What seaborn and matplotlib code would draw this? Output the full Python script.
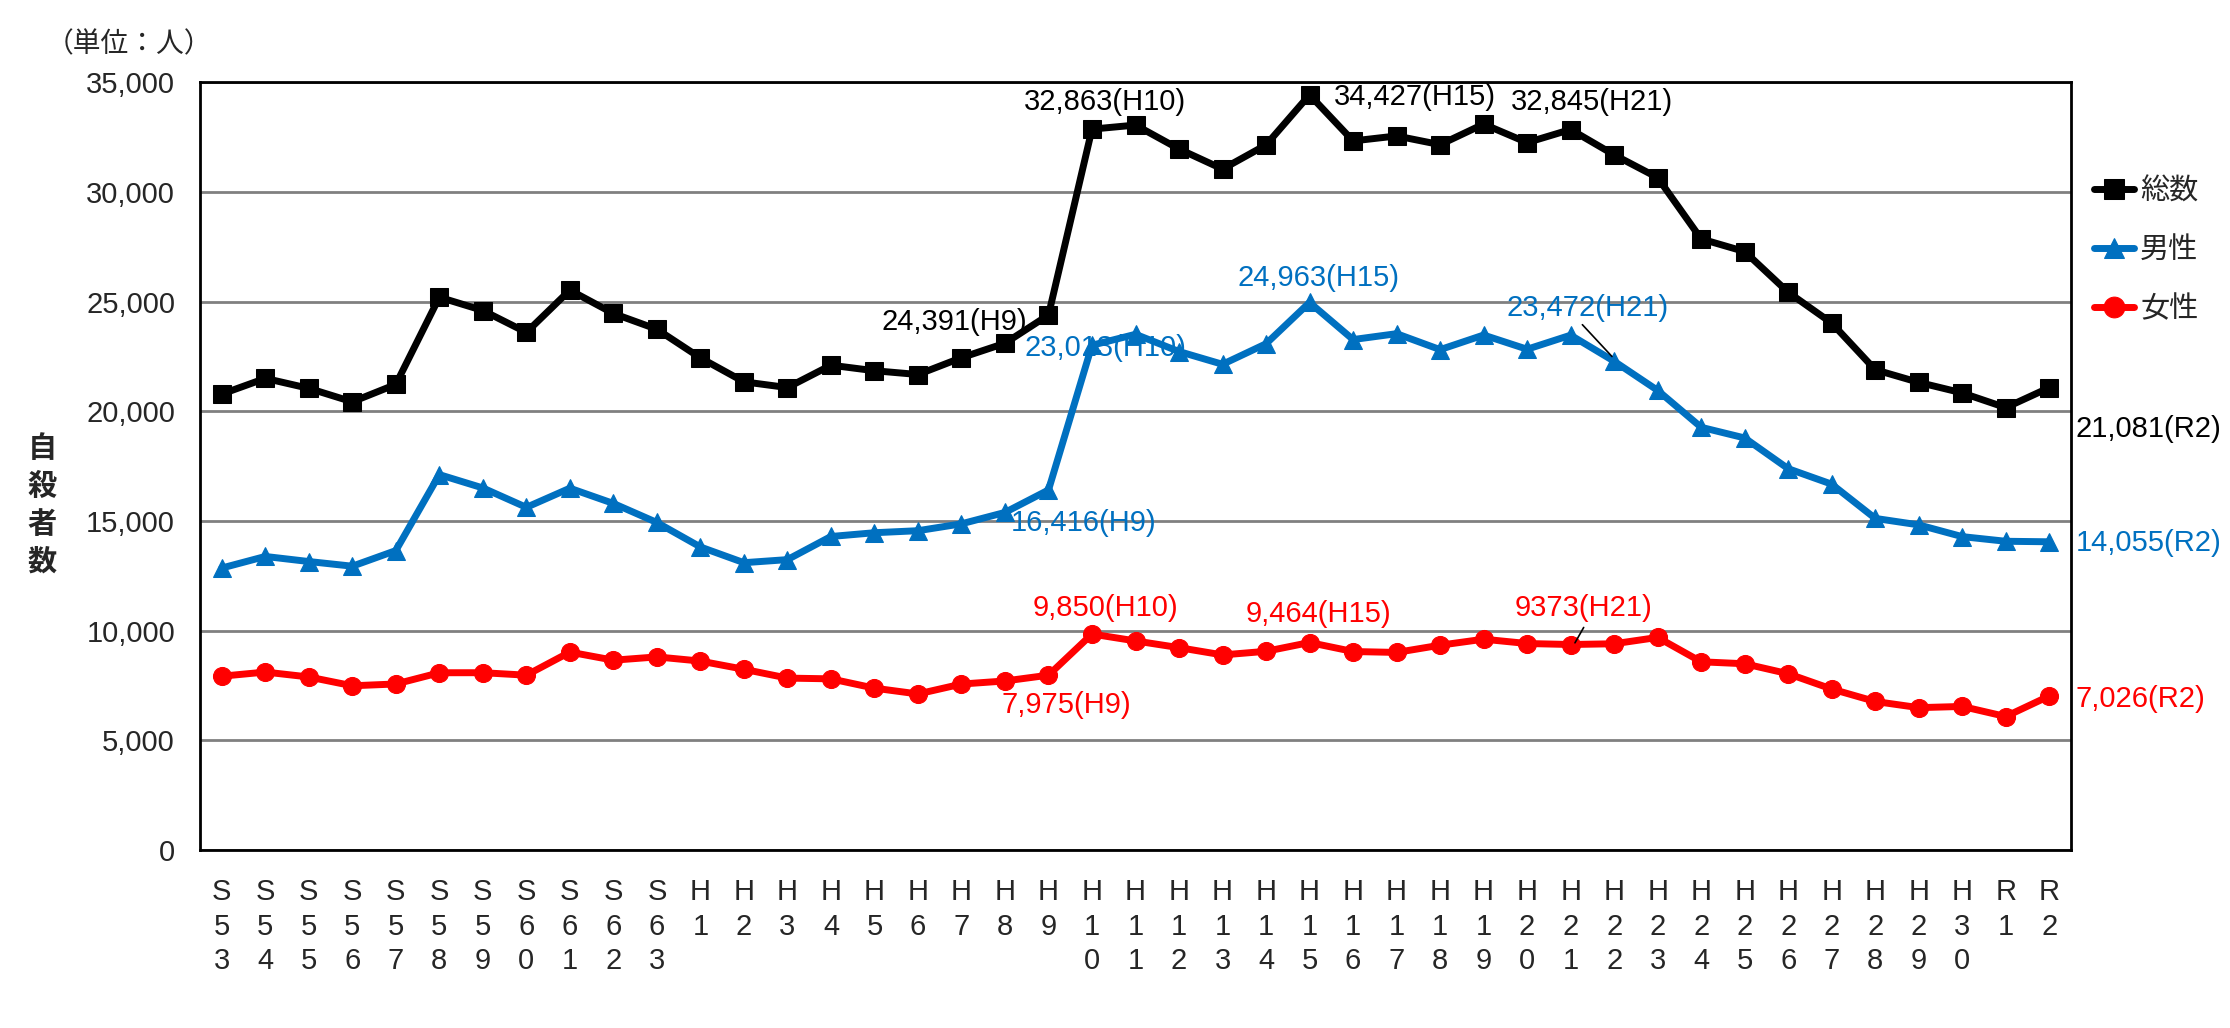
import numpy as np
import pandas as pd
import seaborn as sns
import matplotlib.pyplot as plt

years = (
    [f"S{i}" for i in range(53, 64)]
    + [f"H{i}" for i in range(1, 31)]
    + ["R1", "R2"]
)

total = [
    20788, 21503, 21048, 20434, 21228, 25202, 24596, 23599, 25524, 24460, 23742,
    22436, 21346, 21084, 22104, 21851, 21679, 22445, 23104, 24391, 32863, 33048,
    31957, 31042, 32143, 34427, 32325, 32552, 32155, 33093, 32249, 32845, 31690,
    30651, 27858, 27283, 25427, 24025, 21897, 21321, 20840, 20169, 21081,
]
male = [
    12859, 13386, 13155, 12942, 13654, 17116, 16508, 15624, 16497, 15802, 14934,
    13818, 13102, 13242, 14296, 14468, 14560, 14874, 15393, 16416, 23013, 23512,
    22727, 22144, 23080, 24963, 23272, 23540, 22813, 23478, 22831, 23472, 22283,
    20955, 19273, 18787, 17386, 16681, 15121, 14826, 14290, 14078, 14055,
]
female = [
    7929, 8117, 7893, 7492, 7574, 8086, 8088, 7975, 9027, 8658, 8808,
    8618, 8244, 7842, 7808, 7383, 7119, 7571, 7711, 7975, 9850, 9536,
    9230, 8898, 9063, 9464, 9053, 9012, 9342, 9615, 9418, 9373, 9407,
    9696, 8585, 8496, 8041, 7344, 6776, 6495, 6550, 6091, 7026,
]

series_names = ["総数", "男性", "女性"]
colors = ["#000000", "#0070C0", "#FF0000"]
markers = ["s", "^", "o"]

# (text, x index, y value, ha, series)
labels = [
    ("32,863(H10)", 20.3, 34100, "center", 0),
    ("34,427(H15)", 25.55, 34350, "left", 0),
    ("32,845(H21)", 31.5, 34100, "center", 0),
    ("24,391(H9)", 18.5, 24050, "right", 0),
    ("21,081(R2)", 42.6, 19200, "left", 0),
    ("23,013(H10)", 20.3, 22870, "center", 1),
    ("24,963(H15)", 25.2, 26100, "center", 1),
    ("23,472(H21)", 31.4, 24700, "center", 1),
    ("16,416(H9)", 19.8, 14900, "center", 1),
    ("14,055(R2)", 42.6, 14000, "left", 1),
    ("9,850(H10)", 20.3, 11020, "center", 2),
    ("9,464(H15)", 25.2, 10760, "center", 2),
    ("9373(H21)", 31.3, 11020, "center", 2),
    ("7,975(H9)", 19.4, 6610, "center", 2),
    ("7,026(R2)", 42.6, 6870, "left", 2),
]

sns.set_theme(style="white")
plt.rcParams["font.family"] = ["Liberation Sans", "Noto Sans CJK JP"]

fig = plt.figure(figsize=(22.3, 10.28), dpi=100)
ax = fig.add_axes([0.0897, 0.173, 0.8390, 0.747])

x = np.arange(len(years))
for name, vals, c, m in zip(series_names, [total, male, female], colors, markers):
    df = pd.DataFrame({"x": x, "y": vals})
    sns.lineplot(
        data=df, x="x", y="y", ax=ax, color=c, marker=m, markersize=13,
        markeredgecolor=c, linewidth=5, label=name,
    )

for txt, lx, ly, ha, s in labels:
    ax.text(lx, ly, txt, ha=ha, va="center", fontsize=21, color=colors[s])

# leader lines
ax.plot([31.27, 31.95], [23950, 22500], color="black", linewidth=1.2)
ax.plot([31.3, 31.1], [10150, 9450], color="black", linewidth=1.2)

ax.set_xlim(-0.5, len(years) - 0.5)
ax.set_ylim(0, 35000)
ax.set_yticks(range(0, 35001, 5000))
ax.set_yticklabels([f"{v:,}" for v in range(0, 35001, 5000)])
ax.set_xticks(x)
ax.set_xticklabels(["\n".join(list(y)) for y in years], linespacing=1.3)
ax.tick_params(axis="y", direction="in", length=8, width=1.5, labelsize=21, pad=18)
ax.tick_params(axis="x", length=0, labelsize=21, pad=20)
ax.yaxis.grid(True, color="#808080", linewidth=2)
ax.set_axisbelow(True)
for sp in ax.spines.values():
    sp.set_visible(True)
    sp.set_color("black")
    sp.set_linewidth(2)
ax.set_xlabel("")
ax.set_ylabel("")

leg = ax.legend(
    loc="upper left", bbox_to_anchor=(0.998, 0.91), frameon=False,
    fontsize=21, handlelength=1.4, labelspacing=1.05, handletextpad=0.2,
    markerscale=1.15,
)

fig.text(0.058, 0.956, "（単位：人）", ha="center", va="center", fontsize=20)
fig.text(0.019, 0.508, "\n".join("自殺者数"), ha="center", va="center",
         fontsize=21, fontweight="bold", linespacing=1.45)

fig.savefig("out.png", dpi=100)
